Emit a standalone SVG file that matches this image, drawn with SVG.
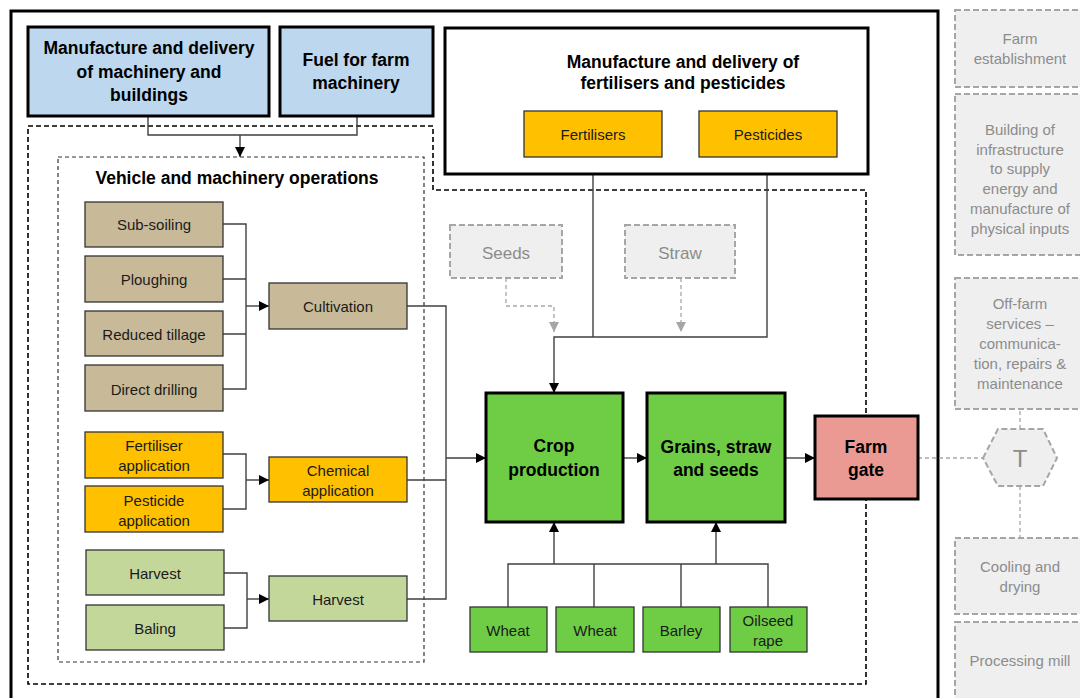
<svg xmlns="http://www.w3.org/2000/svg" width="1080" height="698" viewBox="0 0 1080 698">
<defs>
<marker id="ah" markerUnits="userSpaceOnUse" markerWidth="10" markerHeight="10" refX="10" refY="5" orient="auto"><path d="M0,0 L10,5 L0,10 z" fill="#000"/></marker>
<marker id="ahg" markerUnits="userSpaceOnUse" markerWidth="10" markerHeight="10" refX="10" refY="5" orient="auto"><path d="M0,0 L10,5 L0,10 z" fill="#a6a6a6"/></marker>
<style>
text{font-family:"Liberation Sans",Arial,sans-serif;text-anchor:middle;dominant-baseline:central;fill:#1a1a1a}
.b{font-weight:bold;font-size:17.5px;fill:#000}
.n{font-size:15px}
.g{font-size:15px;fill:#8c8c8c}
.big{stroke:#000;stroke-width:3}
.sm{stroke:#333;stroke-width:1.3}
.con{fill:none;stroke:#404040;stroke-width:1.4}
.gd{fill:#efefef;stroke:#a6a6a6;stroke-width:2;stroke-dasharray:6 3}
.gl{fill:none;stroke:#a6a6a6;stroke-width:1.3;stroke-dasharray:4 3}
.dash{fill:none;stroke:#000;stroke-width:1.6;stroke-dasharray:5 3}
.dash2{fill:none;stroke:#333;stroke-width:1.2;stroke-dasharray:4 3}
.tan{fill:#c8ba98}
.org{fill:#ffc000}
.lg{fill:#c4d79b}
.gr{fill:#6fcd45}
</style>
</defs>
<rect x="11" y="11" width="927" height="710" fill="#fff" stroke="#000" stroke-width="3"/>

<g id="right-column">
<g id="farm-establishment"><rect class="gd" x="955" y="10" width="140" height="77"/><text class="g" x="1020" y="38">Farm</text><text class="g" x="1020" y="58">establishment</text></g>
<g id="building-infrastructure"><rect class="gd" x="955" y="94" width="140" height="161"/><text class="g" x="1020" y="129">Building of</text><text class="g" x="1020" y="149">infrastructure</text><text class="g" x="1020" y="168">to supply</text><text class="g" x="1020" y="188">energy and</text><text class="g" x="1020" y="208">manufacture of</text><text class="g" x="1020" y="228">physical inputs</text></g>
<g id="off-farm"><rect class="gd" x="955" y="278" width="140" height="131"/><text class="g" x="1020" y="303">Off-farm</text><text class="g" x="1020" y="323">services –</text><text class="g" x="1020" y="343">communica-</text><text class="g" x="1020" y="363">tion, repairs &amp;</text><text class="g" x="1020" y="383">maintenance</text></g>
<g id="transport"><polygon class="gd" points="983,458 998,429 1043,429 1057,458 1043,486 998,486"/><text x="1020" y="458" style="font-size:24px;fill:#8c8c8c">T</text></g>
<g id="cooling"><rect class="gd" x="955" y="538" width="140" height="76"/><text class="g" x="1020" y="566">Cooling and</text><text class="g" x="1020" y="586">drying</text></g>
<g id="processing"><rect class="gd" x="955" y="622" width="140" height="90"/><text class="g" x="1020" y="660">Processing mill</text></g>
</g>

<g id="boundaries">
<path class="dash" d="M28,126 H433 V190 H866 V684 H28 Z"/>
<rect class="dash2" x="58" y="157" width="366" height="505"/>
<text class="b" x="237" y="178">Vehicle and machinery operations</text>
</g>

<g id="connectors">
<path class="con" d="M148,116 V135 H357 V116 M240,135 V157" marker-end="url(#ah)"/>
<path class="con" d="M223,224 H246 V389 H223 M223,279 H246 M223,334 H246"/>
<path class="con" d="M246,306 H269" marker-end="url(#ah)"/>
<path class="con" d="M223,454 H246 V509 H223"/>
<path class="con" d="M246,480 H269" marker-end="url(#ah)"/>
<path class="con" d="M224,573 H247 V628 H224"/>
<path class="con" d="M247,599 H269" marker-end="url(#ah)"/>
<path class="con" d="M407,306 H446 V599 H407 M407,480 H446"/>
<path class="con" d="M446,458 H486" marker-end="url(#ah)"/>
<path class="con" d="M593,157 V337 M767,157 V337 H554 V393" marker-end="url(#ah)"/>
<path class="gl" d="M506,278 V306 H554 V332" marker-end="url(#ahg)"/>
<path class="gl" d="M681,278 V332" marker-end="url(#ahg)"/>
<path class="con" d="M623,458 H647" marker-end="url(#ah)"/>
<path class="con" d="M785,458 H815" marker-end="url(#ah)"/>
<path class="con" d="M508,607 V564 H768 V607 M594,607 V564 M681,607 V564"/>
<path class="con" d="M554,564 V522" marker-end="url(#ah)"/>
<path class="con" d="M716,564 V522" marker-end="url(#ah)"/>
<path class="gl" d="M918,458 H983 M1020,429 V409 M1020,486 V538"/>
</g>

<g id="machinery-delivery"><rect class="big" x="28" y="27" width="241" height="89" fill="#bdd7ee"/><text class="b" x="149" y="48">Manufacture and delivery</text><text class="b" x="149" y="72">of machinery and</text><text class="b" x="149" y="95">buildings</text></g>
<g id="fuel"><rect class="big" x="280" y="27" width="153" height="89" fill="#bdd7ee"/><text class="b" x="356" y="60">Fuel for farm</text><text class="b" x="356" y="83">machinery</text></g>
<g id="fert-delivery"><rect class="big" x="445" y="28" width="423" height="146" fill="#fff"/><text class="b" x="683" y="62">Manufacture and delivery of</text><text class="b" x="683" y="83">fertilisers and pesticides</text></g>
<g id="fertilisers"><rect class="sm org" x="524" y="111" width="138" height="46"/><text class="n" x="593" y="134">Fertilisers</text></g>
<g id="pesticides"><rect class="sm org" x="699" y="111" width="138" height="46"/><text class="n" x="768" y="134">Pesticides</text></g>

<g id="sub-soiling"><rect class="sm tan" x="85" y="202" width="138" height="45"/><text class="n" x="154" y="224">Sub-soiling</text></g>
<g id="ploughing"><rect class="sm tan" x="85" y="256" width="138" height="46"/><text class="n" x="154" y="279">Ploughing</text></g>
<g id="reduced-tillage"><rect class="sm tan" x="85" y="311" width="138" height="45"/><text class="n" x="154" y="334">Reduced tillage</text></g>
<g id="direct-drilling"><rect class="sm tan" x="85" y="365" width="138" height="46"/><text class="n" x="154" y="389">Direct drilling</text></g>
<g id="cultivation"><rect class="sm tan" x="269" y="283" width="138" height="46"/><text class="n" x="338" y="306">Cultivation</text></g>

<g id="fertiliser-application"><rect class="sm org" x="85" y="432" width="138" height="46"/><text class="n" x="154" y="445">Fertiliser</text><text class="n" x="154" y="465">application</text></g>
<g id="pesticide-application"><rect class="sm org" x="85" y="486" width="138" height="46"/><text class="n" x="154" y="500">Pesticide</text><text class="n" x="154" y="520">application</text></g>
<g id="chemical-application"><rect class="sm org" x="269" y="457" width="138" height="45"/><text class="n" x="338" y="470">Chemical</text><text class="n" x="338" y="490">application</text></g>

<g id="harvest-op"><rect class="sm lg" x="86" y="550" width="138" height="45"/><text class="n" x="155" y="573">Harvest</text></g>
<g id="baling"><rect class="sm lg" x="86" y="605" width="138" height="45"/><text class="n" x="155" y="628">Baling</text></g>
<g id="harvest"><rect class="sm lg" x="269" y="576" width="138" height="45"/><text class="n" x="338" y="599">Harvest</text></g>

<g id="seeds"><rect class="gd" x="450" y="225" width="112" height="53"/><text x="506" y="253" style="font-size:17px;fill:#8c8c8c">Seeds</text></g>
<g id="straw"><rect class="gd" x="625" y="225" width="110" height="53"/><text x="680" y="253" style="font-size:17px;fill:#8c8c8c">Straw</text></g>

<g id="crop-production"><rect class="big gr" x="486" y="393" width="137" height="129"/><text class="b" x="554" y="446">Crop</text><text class="b" x="554" y="470">production</text></g>
<g id="grains"><rect class="big gr" x="647" y="393" width="138" height="129"/><text class="b" x="716" y="447">Grains, straw</text><text class="b" x="716" y="470">and seeds</text></g>
<g id="farm-gate"><rect class="big" x="815" y="416" width="103" height="83" fill="#ea9a93"/><text class="b" x="866" y="447">Farm</text><text class="b" x="866" y="470">gate</text></g>

<g id="wheat1"><rect class="sm gr" x="470" y="607" width="77" height="45"/><text class="n" x="508" y="630">Wheat</text></g>
<g id="wheat2"><rect class="sm gr" x="556" y="607" width="78" height="45"/><text class="n" x="595" y="630">Wheat</text></g>
<g id="barley"><rect class="sm gr" x="643" y="607" width="77" height="45"/><text class="n" x="681" y="630">Barley</text></g>
<g id="oilseed"><rect class="sm gr" x="730" y="607" width="77" height="45"/><text class="n" x="768" y="620">Oilseed</text><text class="n" x="768" y="640">rape</text></g>
</svg>
